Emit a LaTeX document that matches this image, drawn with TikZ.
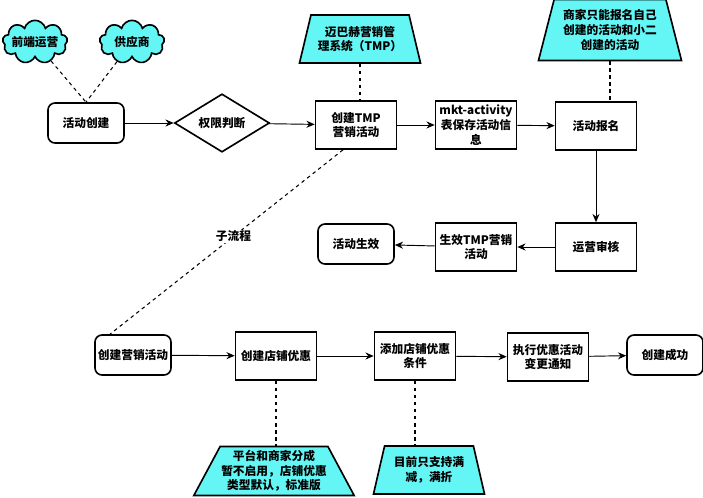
\documentclass[tikz,border=0pt]{standalone}
\usepackage{fontspec}
\setmainfont{Noto Sans CJK SC}
\usepackage{tikz}
\usetikzlibrary{arrows.meta,shapes.geometric,shapes.symbols,positioning,calc}

\definecolor{notecyan}{RGB}{100,245,245}

\tikzset{
	lbl/.style={font=\bfseries\fontsize{10}{12.5}\selectfont, align=center},
	box/.style={lbl, draw, line width=1.4pt, inner sep=1pt, minimum width=2.43cm, minimum height=1.44cm},
	rbox/.style={box, rounded corners=6pt, minimum width=2.28cm, minimum height=1.2cm},
	gate/.style={lbl, diamond, draw, line width=1.4pt, inner sep=0pt, minimum width=2.85cm, minimum height=1.53cm},
	note/.style={lbl, trapezium, trapezium stretches body, draw, line width=1.4pt, fill=notecyan, inner sep=1pt},
	puff/.style={lbl, cloud, cloud puffs=9, cloud ignores aspect, draw, line width=1.4pt, fill=notecyan, inner xsep=-6pt, inner ysep=-2pt, minimum width=1.95cm, minimum height=1.3cm},
	flow/.style={-{Stealth[length=7pt,width=6pt]}, line width=0.8pt},
	link/.style={dashed, line width=0.9pt}
}

\begin{document}
\begin{tikzpicture}[x=0.03cm, y=-0.03cm]
	\useasboundingbox (0,0) rectangle (703,497);

	\node[puff] (fe) at (35,42)  {前端运营};
	\node[puff] (gy) at (132,42) {供应商};

	\node[rbox] (cj)  at (86,123)  {活动创建};
	\node[gate] (qx)  at (222,123) {权限判断};
	\node[box]  (tmp) at (356,125) {创建TMP\\营销活动};
	\node[box]  (mkt) at (476,125) {mkt-activity\\表保存活动信\\息};
	\node[box]  (bm)  at (596,126) {活动报名};
	\node[box]  (sh)  at (596,247) {运营审核};
	\node[box]  (sx)  at (476,247) {生效TMP营销\\活动};
	\node[rbox] (ok)  at (356,244) {活动生效};

	\node[note, trapezium left angle=68, trapezium right angle=68, minimum width=3.63cm, minimum height=1.44cm] (sys) at (360,39) {迈巴赫营销管\\理系统（TMP）};
	\node[note, trapezium left angle=70, trapezium right angle=70, minimum width=4.29cm, minimum height=1.83cm] (rule) at (610,30) {商家只能报名自己\\创建的活动和小二\\创建的活动};

	\node[rbox] (yx) at (133,355) {创建营销活动};
	\node[box]  (dp) at (276,356) {创建店铺优惠};
	\node[box]  (tj) at (415,356) {添加店铺优惠\\条件};
	\node[box]  (zx) at (548,357) {执行优惠活动\\变更通知};
	\node[rbox] (cg) at (665,355) {创建成功};

	\node[note, trapezium left angle=59, trapezium right angle=59, minimum width=4.59cm, minimum height=1.47cm] (fc) at (274,471) {平台和商家分成\\暂不启用，店铺优惠\\类型默认，标准版};
	\node[note, trapezium left angle=69, trapezium right angle=69, minimum width=3.33cm, minimum height=1.44cm] (mj) at (429,470) {目前只支持满\\减，满折};

	\draw[link] (fe) -- (cj.north);
	\draw[link] (gy) -- (cj.north);
	\draw[link] (sys.south) -- (sys.south |- tmp.north);
	\draw[link] (rule.south) -- (rule.south |- bm.north);
	\draw[link] ($(tmp.south)+(-13,0)$) -- node[lbl, pos=0.47, fill=white, inner sep=1pt] {子流程} ($(yx.north)+(-23,0)$);
	\draw[link] (dp.south) -- (dp.south |- fc.north);
	\draw[link] (tj.south) -- (tj.south |- mj.north);

	\draw[flow] (cj)  -- (qx);
	\draw[flow] (qx)  -- (tmp);
	\draw[flow] (tmp) -- (mkt);
	\draw[flow] (mkt) -- (bm);
	\draw[flow] (bm)  -- (sh);
	\draw[flow] (sh)  -- (sx);
	\draw[flow] (sx)  -- (ok);

	\draw[flow] (yx) -- (dp);
	\draw[flow] (dp) -- (tj);
	\draw[flow] (tj) -- (zx);
	\draw[flow] (zx) -- (cg);
\end{tikzpicture}
\end{document}
